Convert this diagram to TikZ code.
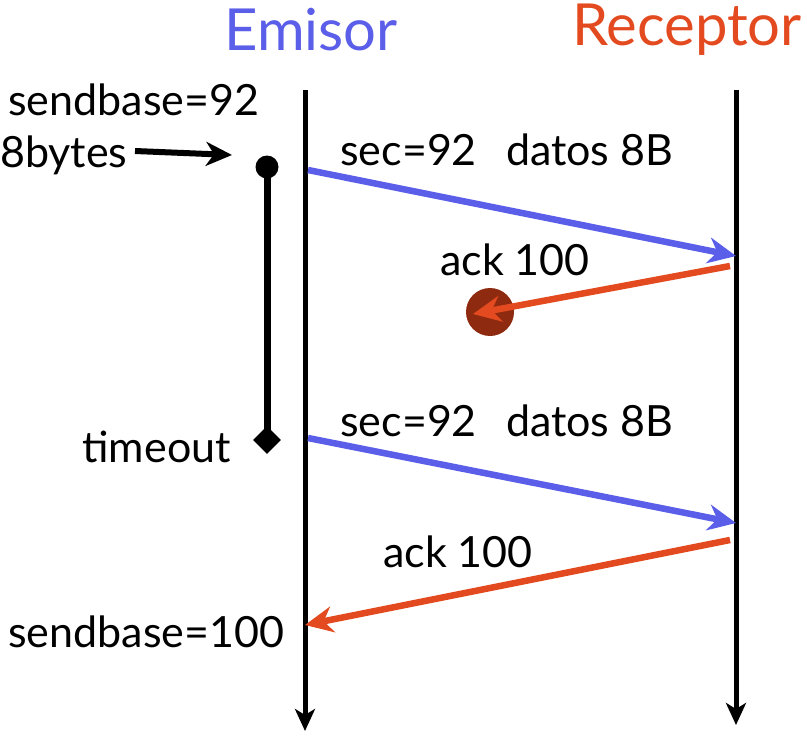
\documentclass[tikz,border=0pt]{standalone}
\usepackage{fontspec}
\setmainfont{Lato}
\usetikzlibrary{arrows.meta,shapes.geometric}
\definecolor{sendblue}{HTML}{5A5EE8}
\definecolor{recvred}{HTML}{E34A1F}
\definecolor{lostred}{HTML}{8E2A10}
\begin{document}
\begin{tikzpicture}[x=1pt,y=-1pt,
  lbl/.style={inner sep=0pt, font=\fontsize{43}{47}\selectfont},
  hdr/.style={inner sep=0pt, font=\fontsize{58}{62}\selectfont},
  life/.style={line width=5pt, -{Stealth[length=22pt,width=20pt,inset=6pt]}},
  msg/.style={line width=6.5pt, -{Stealth[length=28pt,width=26pt,inset=9pt]}},
  blk/.style={line width=6pt, -{Stealth[length=26pt,width=24pt,inset=8pt]}}]
\useasboundingbox (0,0) rectangle (807,736);
% headers
\node[hdr, text=sendblue] (hE) at (311,30) {Emisor};
\node[hdr, text=recvred] (hR) at (687,30) {Receptor};
% lifelines
\coordinate (eTop) at (305,90);
\coordinate (eBot) at (305,731);
\coordinate (rTop) at (736,90);
\coordinate (rBot) at (736,725);
\draw[life] (eTop) -- (eBot);
\draw[life] (rTop) -- (rBot);
% left labels
\node[lbl, anchor=west] (sb92) at (8,100) {sendbase=92};
\node[lbl, anchor=west] (b8) at (0,155) {8bytes};
\coordinate (aStart) at (135,151);
\coordinate (aEnd) at (232,155);
\draw[blk] (aStart) -- (aEnd);
% timer
\node[circle, fill=black, inner sep=0pt, minimum size=23pt] (tDot) at (267,167) {};
\node[diamond, fill=black, inner sep=0pt, minimum size=28pt] (tDia) at (267,440) {};
\draw[line width=7pt] (tDot.center) -- (tDia.center);
\node[lbl, anchor=east] (to) at (231,447) {timeout};
% message 1
\coordinate (m1s) at (308,170);
\coordinate (m1e) at (736,256);
\draw[msg, sendblue] (m1s) -- (m1e);
\node[lbl, anchor=west] (l1) at (340,150) {sec=92\ \ \,datos 8B};
% ack 1 lost
\node[circle, fill=lostred, inner sep=0pt, minimum size=48pt] (lost) at (490,312) {};
\coordinate (a1s) at (730,266);
\draw[msg, recvred] (a1s) -- (473,314);
\node[lbl] (l2) at (515,260) {ack 100};
% message 2
\coordinate (m2s) at (308,438);
\coordinate (m2e) at (736,523);
\draw[msg, sendblue] (m2s) -- (m2e);
\node[lbl, anchor=west] (l3) at (340,421) {sec=92\ \ \,datos 8B};
% ack 2
\coordinate (a2s) at (730,540);
\coordinate (a2e) at (305,625);
\draw[msg, recvred] (a2s) -- (a2e);
\node[lbl] (l4) at (458,552) {ack 100};
\node[lbl, anchor=west] (sb100) at (8,632) {sendbase=100};
\end{tikzpicture}
\end{document}
